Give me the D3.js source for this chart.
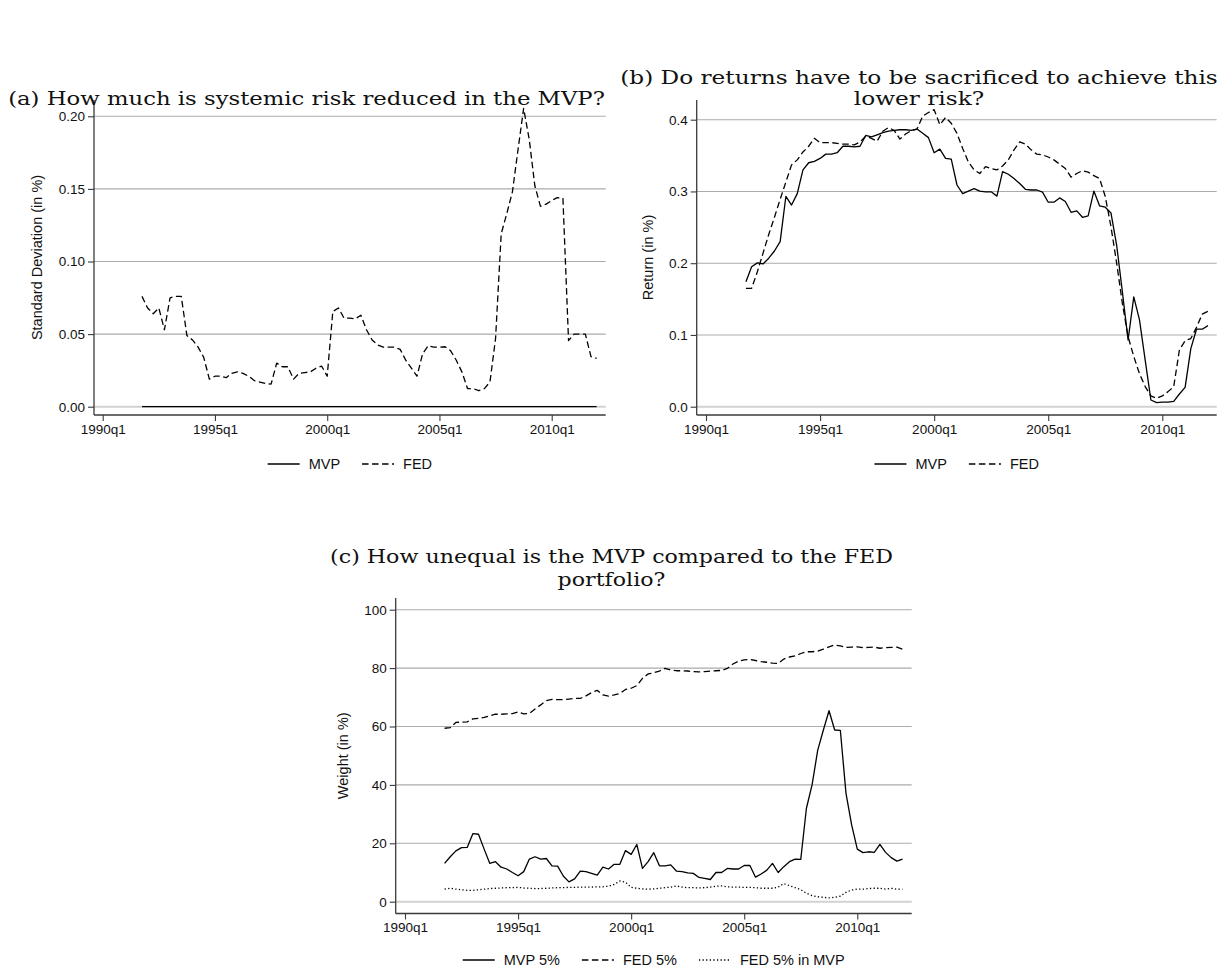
<!DOCTYPE html>
<html>
<head>
<meta charset="utf-8">
<script src="https://cdn.jsdelivr.net/npm/d3@7"></script>
<style>
  body { margin: 0; background: #fff; }
  svg { display: block; }
</style>
</head>
<body>
<svg id="chart" width="1223" height="967"></svg>
<script>
// ---- data -----------------------------------------------------------
const firstQuarter = "1991q4";
const xTickLabels = ["1990q1", "1995q1", "2000q1", "2005q1", "2010q1"];

const sdTicks = [0, 0.05, 0.10, 0.15, 0.20];
const retTicks = [0, 0.1, 0.2, 0.3, 0.4];
const weightTicks = [0, 20, 40, 60, 80, 100];

// (a) standard deviation of the portfolios, in %
const sdMVP = [0,0,0,0,0,0,0,0,0,0, 0,0,0,0,0,0,0,0,0,0, 0,0,0,0,0,0,0,0,0,0,
  0,0,0,0,0,0,0,0,0,0, 0,0,0,0,0,0,0,0,0,0, 0,0,0,0,0,0,0,0,0,0,
  0,0,0,0,0,0,0,0,0,0, 0,0,0,0,0,0,0,0,0,0, 0,0];
const sdFED = [0.076,0.068,0.064,0.068,0.053,0.075,0.076,0.076,0.049,0.046,
  0.041,0.034,0.019,0.021,0.021,0.020,0.023,0.024,0.023,0.021,
  0.018,0.017,0.016,0.0155,0.030,0.0275,0.0275,0.019,0.023,0.0235,
  0.024,0.0265,0.028,0.021,0.0655,0.068,0.061,0.061,0.0605,0.063,
  0.053,0.046,0.0425,0.041,0.041,0.041,0.0395,0.032,0.0265,0.021,
  0.0365,0.042,0.041,0.041,0.0413,0.0385,0.032,0.024,0.0125,0.0125,
  0.011,0.0125,0.017,0.047,0.119,0.133,0.148,0.177,0.2055,0.184,
  0.152,0.138,0.1395,0.142,0.144,0.1435,0.0455,0.050,0.050,0.050,
  0.0345,0.0333];

// (b) average return, in %
const retMVP = [0.174,0.195,0.2005,0.199,0.207,0.217,0.230,0.293,0.281,0.297,
  0.330,0.340,0.342,0.346,0.352,0.352,0.354,0.363,0.363,0.362,
  0.363,0.378,0.376,0.379,0.382,0.384,0.385,0.386,0.386,0.385,
  0.387,0.381,0.375,0.354,0.359,0.346,0.345,0.309,0.297,0.3005,
  0.304,0.3005,0.2995,0.2995,0.2935,0.3275,0.324,0.318,0.311,0.303,
  0.302,0.302,0.299,0.285,0.285,0.291,0.286,0.271,0.273,0.264,
  0.266,0.3005,0.280,0.278,0.270,0.225,0.160,0.093,0.153,0.121,
  0.065,0.0093,0.0056,0.0065,0.0065,0.0074,0.0177,0.027,0.081,0.108,
  0.108,0.113];
const retFED = [0.165,0.165,0.188,0.214,0.240,0.264,0.289,0.313,0.337,0.344,
  0.355,0.363,0.374,0.368,0.368,0.368,0.367,0.366,0.366,0.365,
  0.369,0.377,0.374,0.370,0.384,0.389,0.385,0.373,0.380,0.385,
  0.387,0.405,0.410,0.414,0.393,0.403,0.395,0.381,0.360,0.341,
  0.330,0.325,0.3345,0.332,0.330,0.3355,0.344,0.358,0.369,0.366,
  0.358,0.352,0.351,0.348,0.344,0.338,0.332,0.320,0.325,0.329,
  0.327,0.322,0.318,0.293,0.251,0.200,0.144,0.0976,0.070,0.046,
  0.028,0.015,0.0116,0.015,0.021,0.028,0.079,0.092,0.095,0.1106,
  0.129,0.133];

// (c) portfolio weights of the top 5% institutions, in %
const wMVP5 = [13.1,15.4,17.4,18.5,18.6,23.3,23.1,18.0,13.1,13.7,
  11.8,11.2,10.0,8.9,10.3,14.6,15.4,14.6,14.8,12.3,
  12.2,8.8,6.8,7.8,10.5,10.3,9.7,9.1,11.8,11.2,
  12.8,12.8,17.5,16.2,19.6,11.4,13.7,16.8,12.3,12.3,
  12.6,10.5,10.3,9.9,9.7,8.3,8.0,7.6,10.0,10.0,
  11.4,11.2,11.2,12.4,12.4,8.4,9.5,10.8,13.1,10.0,
  12.0,13.7,14.6,14.5,32.0,40.0,51.9,58.8,65.4,58.8,
  58.7,37.1,26.3,18.0,16.8,17.1,16.9,19.6,16.9,15.1,
  13.9,14.6];
const wFED5 = [59.4,59.6,61.4,61.5,61.6,62.6,62.8,63.1,63.7,64.2,
  64.2,64.3,64.4,65.0,64.3,64.5,66.0,67.4,68.9,69.3,
  69.2,69.2,69.4,69.6,69.6,70.5,71.6,72.4,70.8,70.4,
  70.8,71.3,72.7,73.1,74.0,76.5,78.0,78.4,79.0,79.9,
  79.3,79.1,79.1,79.0,78.8,78.7,78.8,79.0,79.1,79.2,
  79.9,81.4,82.4,82.8,83.0,82.6,82.2,82.0,81.7,81.6,
  83.1,83.8,84.2,85.0,85.6,85.6,85.8,86.5,87.3,87.9,
  87.6,87.1,87.2,87.3,87.0,87.1,87.2,86.8,87.0,87.1,
  87.2,86.5];
const wFED5inMVP = [4.3,4.6,4.3,4.1,3.9,3.9,4.1,4.3,4.5,4.6,
  4.7,4.8,4.8,4.9,4.7,4.6,4.5,4.5,4.6,4.7,
  4.8,4.8,4.9,4.9,5.0,5.0,5.0,5.1,5.1,5.3,
  5.9,7.1,6.7,4.9,4.6,4.4,4.3,4.4,4.6,4.8,
  5.0,5.4,5.0,4.8,4.8,4.7,4.8,5.0,5.3,5.4,
  5.1,5.0,5.0,4.9,4.9,4.8,4.6,4.6,4.6,5.0,
  6.2,5.5,4.8,4.1,2.9,2.1,1.7,1.5,1.3,1.5,
  1.9,3.2,4.0,4.3,4.3,4.5,4.6,4.6,4.3,4.6,
  4.3,4.3];

// ---- helpers --------------------------------------------------------
// quarters counted from 1990q1
const quarterIndex = s => {
  const [y, q] = s.split("q").map(Number);
  return (y - 1990) * 4 + (q - 1);
};
const startQ = quarterIndex(firstQuarter);
const asPoints = arr => arr.map((v, i) => ({ q: startQ + i, v }));

const SANS = "'Liberation Sans', Arial, Helvetica, sans-serif";
const SERIF = "'DejaVu Serif', 'Liberation Serif', serif";
const INK = "#111";
const GRID = "#ababab";
const AXIS = "#3a3a3a";

const DASHED = "6.5,3.5";
const DOTTED = "1.3,2.3";

const svg = d3.select("#chart");
svg.append("rect").attr("width", 1223).attr("height", 967).attr("fill", "#fff");

// ---- one panel ------------------------------------------------------
function drawPanel(cfg) {
  const g = svg.append("g");
  const { left, right, top, bottom } = cfg.box;

  // x: quarter index -> pixels, anchored on 1990q1 and 2010q1
  const x = d3.scaleLinear()
    .domain([quarterIndex(xTickLabels[0]), quarterIndex(xTickLabels[xTickLabels.length - 1])])
    .range(cfg.xRange);
  const y = d3.scaleLinear().domain(cfg.yDomain).range(cfg.yRange);

  // horizontal grid
  g.append("g").selectAll("line").data(cfg.yTicks).join("line")
    .attr("x1", left).attr("x2", right)
    .attr("y1", d => y(d)).attr("y2", d => y(d))
    .attr("stroke", d => d === 0 ? "#d2d2d2" : GRID)
    .attr("stroke-width", d => d === 0 ? 2 : 1.1);

  // y axis
  const ya = d3.axisLeft(y).tickValues(cfg.yTicks).tickFormat(cfg.fmt)
    .tickSize(6).tickPadding(3);
  const yg = g.append("g").attr("transform", `translate(${left},0)`).call(ya);
  yg.select(".domain").remove();
  yg.selectAll(".tick line").attr("stroke", AXIS).attr("stroke-width", 1.1);
  yg.selectAll(".tick text").attr("fill", INK)
    .style("font-family", SANS).style("font-size", "13.5px");
  g.append("line").attr("x1", left).attr("x2", left).attr("y1", top).attr("y2", bottom)
    .attr("stroke", AXIS).attr("stroke-width", 1.3);

  // x axis
  const xa = d3.axisBottom(x).tickValues(xTickLabels.map(quarterIndex))
    .tickFormat((d, i) => xTickLabels[i]).tickSize(6).tickPadding(3);
  const xg = g.append("g").attr("transform", `translate(0,${bottom})`).call(xa);
  xg.select(".domain").remove();
  xg.selectAll(".tick line").attr("stroke", AXIS).attr("stroke-width", 1.1);
  xg.selectAll(".tick text").attr("fill", INK)
    .style("font-family", SANS).style("font-size", "13.5px");
  g.append("line").attr("x1", left).attr("x2", right).attr("y1", bottom).attr("y2", bottom)
    .attr("stroke", AXIS).attr("stroke-width", 1.3);

  // y axis title
  g.append("text")
    .attr("transform", `translate(${cfg.yTitleX},${(top + bottom) / 2}) rotate(-90)`)
    .attr("text-anchor", "middle").attr("dominant-baseline", "central")
    .attr("fill", INK).style("font-family", SANS).style("font-size", "14.5px")
    .text(cfg.yTitle);

  // series
  const line = d3.line().x(d => x(d.q)).y(d => y(d.v));
  cfg.series.forEach(s => {
    g.append("path").datum(asPoints(s.data))
      .attr("d", line).attr("fill", "none")
      .attr("stroke", "#000").attr("stroke-width", 1.3)
      .attr("stroke-linejoin", "round")
      .attr("stroke-dasharray", s.dash);
  });

  // legend, centred under the plot
  const lg = g.append("g");
  let cx = 0;
  cfg.series.forEach(s => {
    lg.append("line").attr("x1", cx).attr("x2", cx + 32)
      .attr("y1", 0).attr("y2", 0)
      .attr("stroke", "#000").attr("stroke-width", 1.3)
      .attr("stroke-dasharray", s.dash);
    const t = lg.append("text").attr("x", cx + 41).attr("y", 0)
      .attr("dominant-baseline", "central").attr("fill", INK)
      .style("font-family", SANS).style("font-size", "14.5px")
      .text(s.name);
    cx += 41 + t.node().getComputedTextLength() + 22;
  });
  const total = cx - 22;
  lg.attr("transform", `translate(${(left + right) / 2 - total / 2},${cfg.legendY})`);

  // panel title (serif, centred)
  const tg = g.append("g");
  cfg.title.forEach((ln, i) => {
    tg.append("text").attr("x", 0).attr("y", cfg.titleY + i * cfg.titleLead)
      .attr("text-anchor", "middle").attr("fill", INK)
      .style("font-family", SERIF).style("font-size", "19px")
      .text(ln);
  });
  const natural = tg.select("text").node().getComputedTextLength();
  const sx = cfg.titleWidth / natural;
  tg.attr("transform", `translate(${cfg.titleX},0) scale(${sx},1)`);
}

drawPanel({
  box: { left: 94, right: 605.7, top: 100, bottom: 415 },
  xRange: [102.7, 551.7],
  yDomain: [0, 0.2], yRange: [406.7, 116.3],
  yTicks: sdTicks, fmt: d3.format(".2f"),
  yTitle: "Standard Deviation (in %)", yTitleX: 37,
  series: [
    { data: sdMVP, name: "MVP", dash: null },
    { data: sdFED, name: "FED", dash: DASHED }
  ],
  legendY: 464,
  title: ["(a) How much is systemic risk reduced in the MVP?"],
  titleX: 306.5, titleY: 105, titleLead: 22, titleWidth: 597
});

drawPanel({
  box: { left: 696.7, right: 1216.7, top: 100, bottom: 415 },
  xRange: [706, 1162.3],
  yDomain: [0, 0.4], yRange: [406.7, 119.7],
  yTicks: retTicks, fmt: d3.format(".1f"),
  yTitle: "Return (in %)", yTitleX: 648,
  series: [
    { data: retMVP, name: "MVP", dash: null },
    { data: retFED, name: "FED", dash: DASHED }
  ],
  legendY: 464,
  title: ["(b) Do returns have to be sacrificed to achieve this", "lower risk?"],
  titleX: 919, titleY: 84, titleLead: 21.5, titleWidth: 598
});

drawPanel({
  box: { left: 395.7, right: 911.7, top: 598, bottom: 913.5 },
  xRange: [405, 857.3],
  yDomain: [0, 100], yRange: [901.7, 609.7],
  yTicks: weightTicks, fmt: d3.format("d"),
  yTitle: "Weight (in %)", yTitleX: 343,
  series: [
    { data: wMVP5, name: "MVP 5%", dash: null },
    { data: wFED5, name: "FED 5%", dash: DASHED },
    { data: wFED5inMVP, name: "FED 5% in MVP", dash: DOTTED }
  ],
  legendY: 960,
  title: ["(c) How unequal is the MVP compared to the FED", "portfolio?"],
  titleX: 611.5, titleY: 563, titleLead: 23, titleWidth: 563
});
</script>
</body>
</html>
